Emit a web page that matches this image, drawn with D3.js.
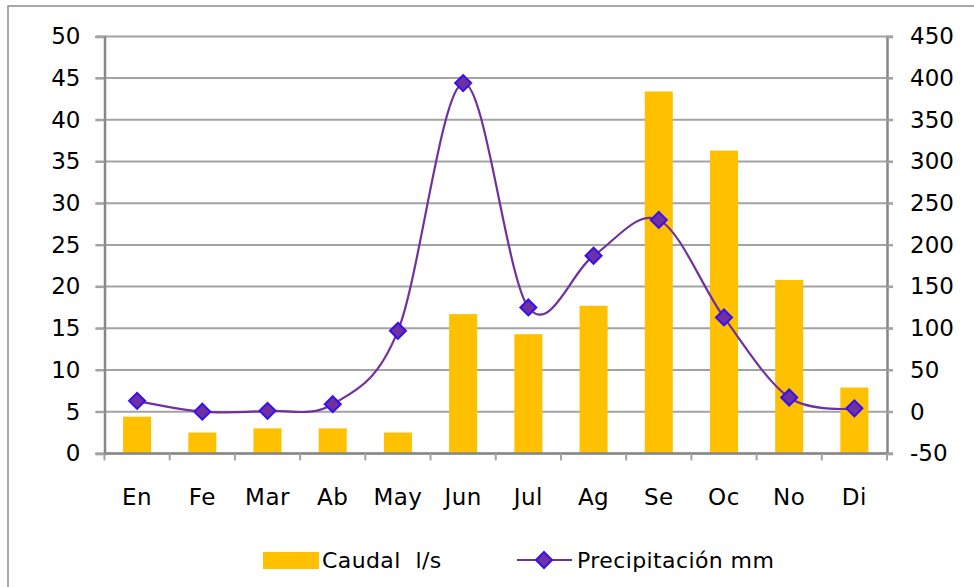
<!DOCTYPE html>
<html>
<head>
<meta charset="utf-8">
<script src="https://cdn.jsdelivr.net/npm/d3@7"></script>
<style>
  html, body { margin: 0; padding: 0; background: #fff; }
  svg { display: block; }
  text { font-family: "DejaVu Sans", Verdana, sans-serif; fill: #000; white-space: pre; }
</style>
</head>
<body>
<svg id="chart" width="974" height="587"></svg>
<script>
const months = ["En","Fe","Mar","Ab","May","Jun","Jul","Ag","Se","Oc","No","Di"];
const caudal = [4.4, 2.5, 3.0, 3.0, 2.5, 16.7, 14.3, 17.7, 43.4, 36.3, 20.8, 7.9];
const precip = [13, 0, 1, 9, 97, 394, 125, 187, 230, 113, 17, 4];
const leftTicks = [0,5,10,15,20,25,30,35,40,45,50];
const rightTicks = [-50,0,50,100,150,200,250,300,350,400,450];
const seriesNames = ["Caudal  l/s", "Precipitación mm"];

const svg = d3.select("#chart");
const W = 974, H = 587;
const plot = {left: 104.5, right: 887, top: 36.4, bottom: 453.4};

const x = d3.scaleBand().domain(months).range([plot.left, plot.right]).padding(0);
const yL = d3.scaleLinear().domain([0, 50]).range([plot.bottom, plot.top]);
const yR = d3.scaleLinear().domain([-50, 450]).range([plot.bottom, plot.top]);

const gridColor = "#a3a3a3", axisColor = "#878787";
const barColor = "#FFC000", lineColor = "#7030A0", markerStroke = "#3410F5";

// outer border
svg.append("rect").attr("x", 8).attr("y", 6).attr("width", W).attr("height", H)
  .attr("fill", "none").attr("stroke", "#8c8c8c").attr("stroke-width", 1.5);

// gridlines (with outer ticks on both sides)
svg.append("g").selectAll("line").data(leftTicks).join("line")
  .attr("x1", plot.left - 9).attr("x2", plot.right + 6)
  .attr("y1", d => yL(d)).attr("y2", d => yL(d))
  .attr("stroke", gridColor).attr("stroke-width", 2);

// left axis
const gL = svg.append("g").attr("transform", `translate(${plot.left},0)`)
  .call(d3.axisLeft(yL).tickValues(leftTicks).tickSize(9).tickPadding(15).tickFormat(d3.format("d")));
gL.select(".domain").attr("stroke", axisColor).attr("stroke-width", 2.5);
gL.selectAll(".tick line").attr("stroke", gridColor).attr("stroke-width", 2);
gL.selectAll("text").attr("font-size", 23).attr("font-family", "DejaVu Sans").attr("fill", "#000");

// right axis
const gR = svg.append("g").attr("transform", `translate(${plot.right},0)`)
  .call(d3.axisRight(yR).tickValues(rightTicks).tickSize(6).tickPadding(17).tickFormat(d3.format("d")));
gR.select(".domain").attr("stroke", axisColor).attr("stroke-width", 2.5);
gR.selectAll(".tick line").attr("stroke", gridColor).attr("stroke-width", 2);
gR.selectAll("text").attr("font-size", 23).attr("font-family", "DejaVu Sans").attr("fill", "#000")
  .text(d => d < 0 ? "-" + Math.abs(d) : d);

// bars
const barW = x.bandwidth() * 0.43;
svg.append("g").selectAll("rect").data(months).join("rect")
  .attr("x", d => x(d) + x.bandwidth()/2 - barW/2)
  .attr("width", barW)
  .attr("y", (d, i) => yL(caudal[i]))
  .attr("height", (d, i) => yL(0) - yL(caudal[i]))
  .attr("fill", barColor);

// bottom axis
const gB = svg.append("g").attr("transform", `translate(0,${plot.bottom})`);
gB.append("line").attr("x1", plot.left).attr("x2", plot.right).attr("y1", 0).attr("y2", 0)
  .attr("stroke", axisColor).attr("stroke-width", 2.5);
const boundaries = months.map(m => x(m)).concat([plot.right]);
gB.selectAll("line.tk").data(boundaries).join("line").attr("class", "tk")
  .attr("x1", d => d).attr("x2", d => d).attr("y1", 0).attr("y2", 7)
  .attr("stroke", gridColor).attr("stroke-width", 2);
gB.selectAll("text").data(months).join("text")
  .attr("x", d => x(d) + x.bandwidth()/2).attr("y", 52)
  .attr("text-anchor", "middle").attr("font-size", 23).attr("letter-spacing", 0.5).text(d => d);

// line
const pts = months.map((m, i) => [x(m) + x.bandwidth()/2, yR(precip[i])]);
svg.append("path").datum(pts)
  .attr("d", d3.line().curve(d3.curveCatmullRom.alpha(0)))
  .attr("fill", "none").attr("stroke", lineColor).attr("stroke-width", 2.2);

const diamond = s => `M0,${-s}L${s},0L0,${s}L${-s},0Z`;
svg.append("g").selectAll("path").data(pts).join("path")
  .attr("transform", d => `translate(${d[0]},${d[1]})`)
  .attr("d", diamond(8))
  .attr("fill", lineColor).attr("stroke", markerStroke).attr("stroke-width", 2);

// legend
const lg = svg.append("g");
lg.append("rect").attr("x", 263).attr("y", 552).attr("width", 56).attr("height", 17).attr("fill", barColor);
lg.append("text").attr("x", 322).attr("y", 568).attr("font-size", 22).attr("letter-spacing", 0.4).text(seriesNames[0]);
lg.append("line").attr("x1", 517).attr("x2", 572).attr("y1", 560).attr("y2", 560)
  .attr("stroke", lineColor).attr("stroke-width", 2.2);
lg.append("path").attr("transform", "translate(544,560)").attr("d", diamond(8))
  .attr("fill", lineColor).attr("stroke", markerStroke).attr("stroke-width", 2);
lg.append("text").attr("x", 577).attr("y", 568).attr("font-size", 22).attr("letter-spacing", 0.4).text(seriesNames[1]);
</script>
</body>
</html>
